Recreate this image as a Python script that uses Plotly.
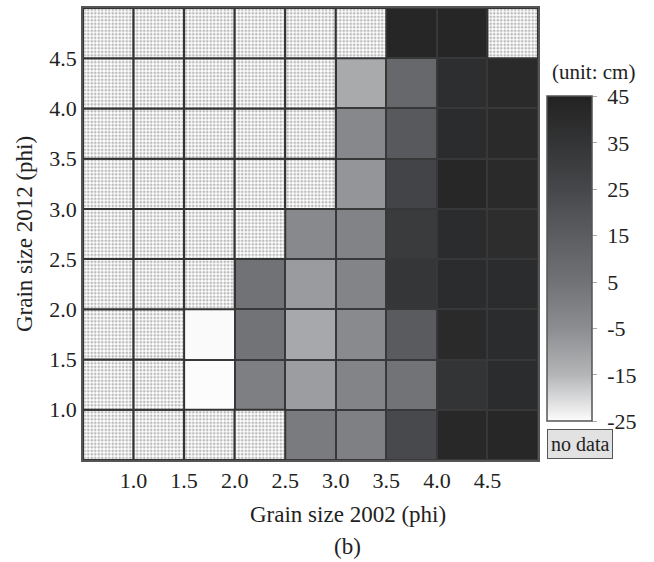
import plotly.graph_objects as go

# ---- data ----
x_centers = [0.75, 1.25, 1.75, 2.25, 2.75, 3.25, 3.75, 4.25, 4.75]
y_centers = [0.75, 1.25, 1.75, 2.25, 2.75, 3.25, 3.75, 4.25, 4.75]
tick_vals = [1.0, 1.5, 2.0, 2.5, 3.0, 3.5, 4.0, 4.5]
tick_text = ["1.0", "1.5", "2.0", "2.5", "3.0", "3.5", "4.0", "4.5"]
cb_ticks = [-25, -15, -5, 5, 15, 25, 35, 45]

N = None
z_rows = [
    [N, N, N, N, 1.7, -0.2, 24.0, 41.4, 42.0],        # y 0.75
    [N, N, -25.0, 0.2, -9.0, -1.7, 4.6, 35.0, 39.7],  # y 1.25
    [N, N, -24.7, 4.6, -11.8, -3.9, 15.9, 40.3, 39.7],# y 1.75
    [N, N, N, 5.0, -8.5, -1.7, 34.0, 39.7, 39.7],     # y 2.25
    [N, N, N, N, -3.5, -1.3, 31.3, 39.7, 39.0],       # y 2.75
    [N, N, N, N, N, -7.0, 26.6, 42.0, 40.3],          # y 3.25
    [N, N, N, N, N, -3.1, 16.8, 39.7, 40.3],          # y 3.75
    [N, N, N, N, N, -12.3, 9.8, 38.5, 40.3],          # y 4.25
    [N, N, N, N, N, N, 42.6, 42.6, N],                # y 4.75
]

cmin, cmax = -25, 45
colorscale = [
    [0.0, "#fcfcfc"],
    [0.1429, "#b4b5b7"],
    [0.2857, "#8c8d90"],
    [0.4286, "#717275"],
    [0.5714, "#5c5d60"],
    [0.7143, "#46474a"],
    [0.8571, "#333435"],
    [1.0, "#232223"],
]

FONT = "Liberation Serif"
W, H = 654, 562
L, R, T, B = 83, 116, 6, 102
pw, ph = W - L - R, H - T - B

def px_x(p):
    return (p - L) / pw

def px_y(p):
    return (H - B - p) / ph

fig = go.Figure()

fig.add_trace(go.Heatmap(
    x=x_centers, y=y_centers, z=z_rows,
    zmin=cmin, zmax=cmax, colorscale=colorscale,
    xgap=2, ygap=2, hoverongaps=False,
    colorbar=dict(
        thickness=45, thicknessmode="pixels",
        len=326 / ph, lenmode="fraction",
        x=px_x(547), xanchor="left", xpad=0,
        y=px_y(258), yanchor="middle", ypad=0,
        outlinewidth=1.5, outlinecolor="#555555",
        tickvals=cb_ticks, ticktext=["\u00a0" + str(v) for v in cb_ticks],
        ticks="outside", ticklen=5, tickcolor="#aaaaaa", tickwidth=1,
        tickfont=dict(family=FONT, size=22, color="#222222"),
    ),
))

# no-data cells as patterned bars
nd_x, nd_base = [], []
for j, yc in enumerate(y_centers):
    for i, xc in enumerate(x_centers):
        if z_rows[j][i] is None:
            nd_x.append(xc)
            nd_base.append(yc - 0.25)

fig.add_trace(go.Bar(
    x=nd_x, y=[0.5] * len(nd_x), base=nd_base, width=0.5,
    marker=dict(
        color="white",
        line=dict(color="#333333", width=2),
        pattern=dict(shape=".", size=3.5, solidity=0.45,
                     fgcolor="#b8b8b8", bgcolor="white", fillmode="replace"),
    ),
    showlegend=False, hoverinfo="skip",
))

axis_common = dict(
    range=[0.5, 5.0], tickvals=tick_vals, ticktext=tick_text,
    showgrid=False, zeroline=False, ticks="",
    showline=True, mirror=True, linecolor="#555555", linewidth=1.5,
    tickfont=dict(family=FONT, size=22, color="#222222"),
)

fig.update_layout(
    width=W, height=H,
    margin=dict(l=L, r=R, t=T, b=B, pad=0),
    paper_bgcolor="white", plot_bgcolor="#383838",
    xaxis=dict(**axis_common),
    yaxis=dict(**axis_common),
    barmode="overlay",
    showlegend=False,
    font=dict(family=FONT, color="#222222"),
    annotations=[
        dict(text="Grain size 2002 (phi)", x=px_x(348), y=px_y(515),
             xref="paper", yref="paper", showarrow=False,
             xanchor="center", yanchor="middle",
             font=dict(family=FONT, size=23, color="#222222")),
        dict(text="(b)", x=px_x(347), y=px_y(547),
             xref="paper", yref="paper", showarrow=False,
             xanchor="center", yanchor="middle",
             font=dict(family=FONT, size=23, color="#222222")),
        dict(text="Grain size 2012 (phi)", x=px_x(24), y=px_y(233),
             xref="paper", yref="paper", showarrow=False, textangle=-90,
             xanchor="center", yanchor="middle",
             font=dict(family=FONT, size=23, color="#222222")),
        dict(text="(unit: cm)", x=px_x(593), y=px_y(70),
             xref="paper", yref="paper", showarrow=False,
             xanchor="center", yanchor="middle",
             font=dict(family=FONT, size=21, color="#222222")),
        dict(text="no data", x=px_x(579.5), y=px_y(444),
             xref="paper", yref="paper", showarrow=False,
             xanchor="center", yanchor="middle",
             bgcolor="#e2e2e2", bordercolor="#555555", borderwidth=1,
             borderpad=3,
             font=dict(family=FONT, size=20, color="#222222")),
    ],
)

fig.write_html("out.html")
